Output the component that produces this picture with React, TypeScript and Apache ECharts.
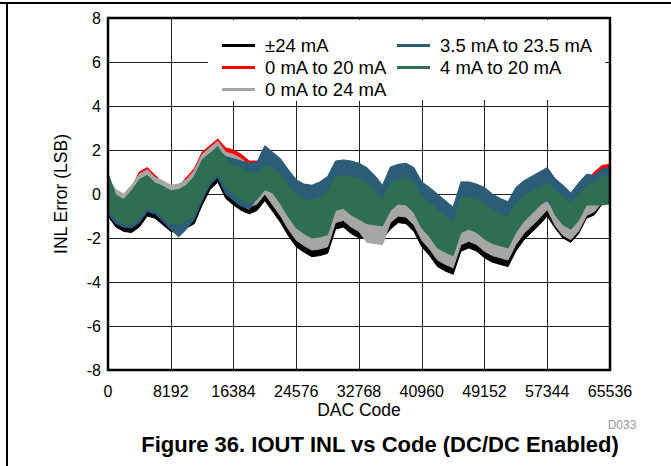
import React, { useEffect, useRef } from "react";
import * as echarts from "echarts";

// DAC code sample positions (x)
const CODES = [
  0, 1024, 2048, 3072, 4096, 5120, 6144, 7168, 8192, 9216,
  10240, 11264, 12288, 13312, 14336, 15360, 16384, 17408, 18432, 19456,
  20480, 21504, 22528, 23552, 24576, 25600, 26624, 27648, 28672, 29696,
  30720, 31744, 32768, 33792, 34816, 35840, 36864, 37888, 38912, 39936,
  40960, 41984, 43008, 44032, 45056, 46080, 47104, 48128, 49152, 50176,
  51200, 52224, 53248, 54272, 55296, 56320, 57344, 58368, 59392, 60416,
  61440, 62464, 63488, 64512, 65536,
];

const X_TICKS = [0, 8192, 16384, 24576, 32768, 40960, 49152, 57344, 65536];
const Y_TICKS = [-8, -6, -4, -2, 0, 2, 4, 6, 8];

// ±24 mA  (band lower / upper edge, LSB)
const BLACK_LO = [
  -1.0, -1.5, -1.7, -1.75, -1.5, -1.0, -1.1, -1.4, -1.7, -1.75,
  -1.55, -1.35, -0.5, 0.2, 0.55, -0.2, -0.5, -0.75, -0.9, -0.75,
  -0.3, -0.8, -1.3, -1.9, -2.4, -2.65, -2.85, -2.8, -2.7, -1.6,
  -1.5, -1.8, -2.0, -1.95, -2.0, -2.05, -1.6, -1.3, -1.35, -1.7,
  -2.4, -2.8, -3.3, -3.5, -3.65, -2.6, -2.45, -2.6, -2.9, -3.1,
  -3.2, -3.3, -2.6, -2.1, -1.75, -1.4, -1.0, -1.55, -2.0, -2.2,
  -1.8, -1.1, -0.95, -0.45, -0.35,
];
const BLACK_HI = [
  0.3, -0.2, -0.4, -0.45, -0.2, 0.3, 0.2, -0.1, -0.4, -0.45,
  -0.25, -0.05, 0.8, 1.5, 1.85, 1.1, 0.8, 0.55, 0.4, 0.55,
  1.0, 0.5, 0.0, -0.6, -1.1, -1.35, -1.55, -1.5, -1.4, -0.3,
  -0.2, -0.5, -0.7, -0.9, -0.95, -1.0, -0.3, 0.0, -0.05, -0.4,
  -1.1, -1.5, -2.0, -2.2, -2.35, -1.3, -1.15, -1.3, -1.6, -1.8,
  -1.9, -2.0, -1.3, -0.8, -0.45, -0.1, 0.3, -0.65, -1.1, -1.3,
  -0.9, -0.2, 0.0, 0.3, 0.5,
];

// 0 mA to 20 mA
const RED_LO = [
  -0.5, -1.0, -1.2, -1.25, -1.0, -0.5, -0.6, -0.9, -1.2, -1.25,
  -1.05, -0.85, 0.0, 0.7, 1.05, 0.3, 0.0, -0.25, -0.4, -0.25,
  0.3, -0.2, -0.7, -1.3, -1.8, -2.05, -2.25, -2.2, -2.1, -1.0,
  -0.9, -1.2, -1.4, -1.6, -1.65, -1.7, -1.0, -0.7, -0.75, -1.1,
  -1.8, -2.2, -2.7, -2.9, -3.05, -2.0, -1.85, -2.0, -2.3, -2.5,
  -2.6, -2.7, -2.0, -1.5, -1.15, -0.8, -0.4, -1.05, -1.5, -1.7,
  -1.3, -0.6, -0.4, -0.1, 0.1,
];
const RED_HI = [
  0.75, 0.1, -0.1, 0.3, 1.0, 1.2, 0.85, 0.5, 0.3, 0.35,
  0.75, 1.15, 1.9, 2.2, 2.5, 2.1, 2.0, 1.8, 1.5, 1.5,
  1.7, 1.4, 1.1, 0.6, 0.15, -0.05, -0.1, 0.05, 0.3, 1.0,
  1.05, 1.0, 0.9, 0.7, 0.35, -0.1, 0.73, 0.85, 0.9, 0.7,
  0.05, -0.2, -0.5, -0.8, -1.1, 0.05, 0.05, -0.05, -0.2, -0.5,
  -0.7, -0.85, -0.2, 0.1, 0.3, 0.5, 0.7, 0.3, 0.0, -0.35,
  0.1, 0.5, 1.0, 1.3, 1.35,
];

// 0 mA to 24 mA
const GRAY_LO = [
  -0.6, -1.1, -1.3, -1.35, -1.1, -0.6, -0.7, -1.0, -1.3, -1.35,
  -1.15, -0.95, -0.1, 0.6, 0.95, 0.1, -0.2, -0.45, -0.6, -0.45,
  0.0, -0.5, -1.0, -1.6, -2.1, -2.35, -2.55, -2.5, -2.4, -1.3,
  -1.2, -1.5, -1.7, -2.2, -2.25, -2.3, -1.3, -1.0, -1.05, -1.4,
  -2.1, -2.5, -3.0, -3.2, -3.35, -2.3, -2.15, -2.3, -2.6, -2.8,
  -2.9, -3.0, -2.3, -1.8, -1.45, -1.1, -0.7, -1.43, -1.88, -2.08,
  -1.68, -0.98, -0.8, -0.4, -0.3,
];
const GRAY_HI = [
  0.7, 0.2, 0.0, 0.4, 0.9, 1.1, 0.75, 0.6, 0.4, 0.45,
  0.65, 1.05, 1.8, 2.1, 2.4, 1.9, 1.8, 1.6, 1.3, 1.2,
  1.0, 0.8, 0.5, 0.0, -0.45, -0.65, -0.7, -0.55, -0.3, 0.4,
  0.45, 0.4, 0.3, 0.1, -0.25, -0.7, 0.13, 0.25, 0.3, 0.1,
  -0.55, -0.8, -1.1, -1.4, -1.7, -0.55, -0.55, -0.65, -0.8, -1.1,
  -1.3, -1.45, -0.8, -0.5, -0.3, -0.1, 0.1, -0.2, -0.5, -0.85,
  -0.4, 0.0, 0.1, 0.4, 0.45,
];

// 3.5 mA to 23.5 mA
const BLUE_LO = [
  -0.9, -1.35, -1.5, -1.55, -1.3, -0.8, -0.9, -1.25, -1.6, -1.95,
  -1.6, -1.15, -0.3, 0.4, 0.75, 0.0, -0.3, -0.55, -0.7, -0.2,
  0.7, 0.4, 0.1, -0.4, -0.85, -1.05, -1.1, -0.95, -0.7, 0.0,
  0.05, 0.0, -0.1, -0.3, -0.65, -1.1, -0.27, -0.15, -0.1, -0.3,
  -0.95, -1.2, -1.5, -1.8, -2.1, -0.95, -0.95, -1.05, -1.2, -1.5,
  -1.7, -1.85, -1.2, -0.9, -0.7, -0.5, -0.3, -0.8, -1.1, -1.45,
  -1.0, -0.4, -0.2, 0.1, 0.3,
];
const BLUE_HI = [
  0.5, -0.15, -0.35, 0.05, 0.55, 0.75, 0.4, 0.25, 0.05, 0.1,
  0.3, 0.7, 1.45, 1.75, 2.05, 1.7, 1.6, 1.5, 1.4, 1.45,
  2.2, 1.9, 1.6, 1.1, 0.65, 0.45, 0.4, 0.55, 0.8, 1.5,
  1.55, 1.5, 1.4, 1.2, 0.85, 0.4, 1.23, 1.35, 1.4, 1.2,
  0.55, 0.3, 0.0, -0.3, -0.6, 0.55, 0.55, 0.45, 0.3, 0.0,
  -0.2, -0.35, 0.3, 0.6, 0.8, 1.0, 1.2, 0.7, 0.4, 0.05,
  0.5, 0.9, 0.85, 1.15, 1.2,
];

// 4 mA to 20 mA
const GREEN_LO = [
  -0.65, -1.15, -1.35, -1.4, -1.15, -0.65, -0.75, -1.05, -1.35, -1.4,
  -1.2, -1.0, -0.15, 0.55, 0.9, 0.3, 0.0, -0.25, -0.4, -0.25,
  0.2, 0.05, -0.45, -1.05, -1.55, -1.8, -2.0, -1.95, -1.85, -0.75,
  -0.65, -0.95, -1.15, -1.35, -1.4, -1.45, -0.75, -0.45, -0.5, -0.85,
  -1.55, -1.95, -2.45, -2.65, -2.8, -1.75, -1.6, -1.75, -2.05, -2.25,
  -2.35, -2.45, -1.75, -1.25, -0.9, -0.55, -0.15, -0.95, -1.4, -1.6,
  -1.2, -0.5, -0.5, -0.5, -0.45,
];
const GREEN_HI = [
  0.95, -0.05, -0.25, 0.15, 0.65, 0.85, 0.5, 0.35, 0.15, 0.2,
  0.4, 0.8, 1.55, 1.85, 2.15, 1.6, 1.3, 1.2, 1.0, 0.9,
  1.3, 1.2, 0.9, 0.4, -0.05, -0.25, -0.3, -0.15, 0.1, 0.8,
  0.85, 0.8, 0.7, 0.5, 0.15, -0.3, 0.53, 0.65, 0.7, 0.5,
  -0.15, -0.4, -0.7, -1.0, -1.3, -0.15, -0.15, -0.25, -0.4, -0.7,
  -0.9, -1.05, -0.4, -0.1, 0.1, 0.3, 0.5, 0.2, -0.1, -0.45,
  0.0, 0.4, 0.5, 0.8, 0.85,
];

const SERIES_NAMES = ["±24 mA", "0 mA to 20 mA", "0 mA to 24 mA", "3.5 mA to 23.5 mA", "4 mA to 20 mA"];
const SERIES_COLORS = ["#000000", "#ff0000", "#a6a6a6", "#2b5c78", "#2e6e52"];
const SERIES_LO = [BLACK_LO, RED_LO, GRAY_LO, BLUE_LO, GREEN_LO];
const SERIES_HI = [BLACK_HI, RED_HI, GRAY_HI, BLUE_HI, GREEN_HI];

const FONT = "'Liberation Sans', Arial, Helvetica, sans-serif";

export default function App() {
  const ref = useRef<HTMLDivElement>(null);

  useEffect(() => {
    if (!ref.current) return;
    const chart = echarts.init(ref.current, undefined, { renderer: "svg" });

    const series: any[] = SERIES_NAMES.map((name, k) => {
      const lo = SERIES_LO[k];
      const hi = SERIES_HI[k];
      const color = SERIES_COLORS[k];
      return {
        type: "custom",
        name,
        data: CODES.map((c, i) => [c, lo[i], hi[i]]),
        encode: { x: 0, y: [1, 2] },
        itemStyle: { color },
        silent: true,
        clip: true,
        z: 10 + k,
        renderItem: (params: any, api: any) => {
          if (params.dataIndex !== 0) return null;
          const pts: number[][] = [];
          for (let i = 0; i < CODES.length; i++) pts.push(api.coord([CODES[i], lo[i]]));
          for (let i = CODES.length - 1; i >= 0; i--) pts.push(api.coord([CODES[i], hi[i]]));
          return {
            type: "polygon",
            shape: { points: pts },
            style: { fill: color, stroke: color, lineWidth: 1 },
          };
        },
      };
    });

    const legendCommon = {
      orient: "vertical",
      backgroundColor: "#ffffff",
      itemWidth: 33,
      itemHeight: 3,
      itemGap: 3,
      icon: "rect",
      selectedMode: false,
      textStyle: { fontSize: 18.5, lineHeight: 18, fontFamily: FONT, color: "#000", padding: [0, 0, 0, 5] },
      z: 20,
    };

    chart.setOption({
      animation: false,
      grid: {
        left: 108,
        right: 61,
        top: 18,
        bottom: 96,
        show: true,
        borderColor: "#000",
        borderWidth: 2.5,
        backgroundColor: "transparent",
        z: 30,
      },
      xAxis: {
        type: "value",
        min: X_TICKS[0],
        max: X_TICKS[X_TICKS.length - 1],
        interval: X_TICKS[1] - X_TICKS[0],
        name: "DAC Code",
        nameLocation: "middle",
        nameGap: 31,
        nameMoveOverlap: false,
        nameTextStyle: { fontSize: 17.5, fontFamily: FONT, color: "#000" },
        axisLine: { show: false },
        axisTick: { show: false },
        axisLabel: {
          fontSize: 16,
          fontFamily: FONT,
          color: "#000",
          margin: 13,
          formatter: (v: number) => String(v),
        },
        splitLine: { show: true, lineStyle: { color: "#222", width: 1 } },
      },
      yAxis: {
        type: "value",
        min: Y_TICKS[0],
        max: Y_TICKS[Y_TICKS.length - 1],
        interval: Y_TICKS[1] - Y_TICKS[0],
        name: "INL Error (LSB)",
        nameLocation: "middle",
        nameGap: 38,
        nameMoveOverlap: false,
        nameTextStyle: { fontSize: 17.5, fontFamily: FONT, color: "#000" },
        axisLine: { show: false },
        axisTick: { show: false },
        axisLabel: { fontSize: 16, fontFamily: FONT, color: "#000", margin: 7 },
        splitLine: { show: true, lineStyle: { color: "#222", width: 1 } },
      },
      legend: [
        {
          ...legendCommon,
          data: SERIES_NAMES.slice(0, 3),
          left: 208,
          top: 20,
          padding: [16, 12, 2, 14],
        },
        {
          ...legendCommon,
          data: SERIES_NAMES.slice(3),
          left: 385,
          top: 20,
          padding: [16, 12, 23, 12],
        },
      ],
      graphic: [
        { type: "line", shape: { x1: 0, y1: 3, x2: 671, y2: 3 }, style: { stroke: "#000", lineWidth: 2 } },
        { type: "line", shape: { x1: 7, y1: 3, x2: 7, y2: 466 }, style: { stroke: "#000", lineWidth: 2 } },
        {
          type: "text",
          x: 380,
          y: 444,
          style: {
            text: "Figure 36. IOUT INL vs Code (DC/DC Enabled)",
            fontSize: 22,
            fontWeight: "bold",
            fontFamily: FONT,
            fill: "#000",
            align: "center",
            verticalAlign: "middle",
          },
        },
        {
          type: "text",
          x: 622,
          y: 425,
          style: {
            text: "D033",
            fontSize: 12,
            fontFamily: FONT,
            fill: "#999",
            align: "center",
            verticalAlign: "middle",
          },
        },
      ],
      series,
    });

    return () => chart.dispose();
  }, []);

  return (
    <div
      ref={ref}
      style={{ position: "absolute", left: 0, top: 0, width: 671, height: 466, background: "#fff" }}
    />
  );
}
